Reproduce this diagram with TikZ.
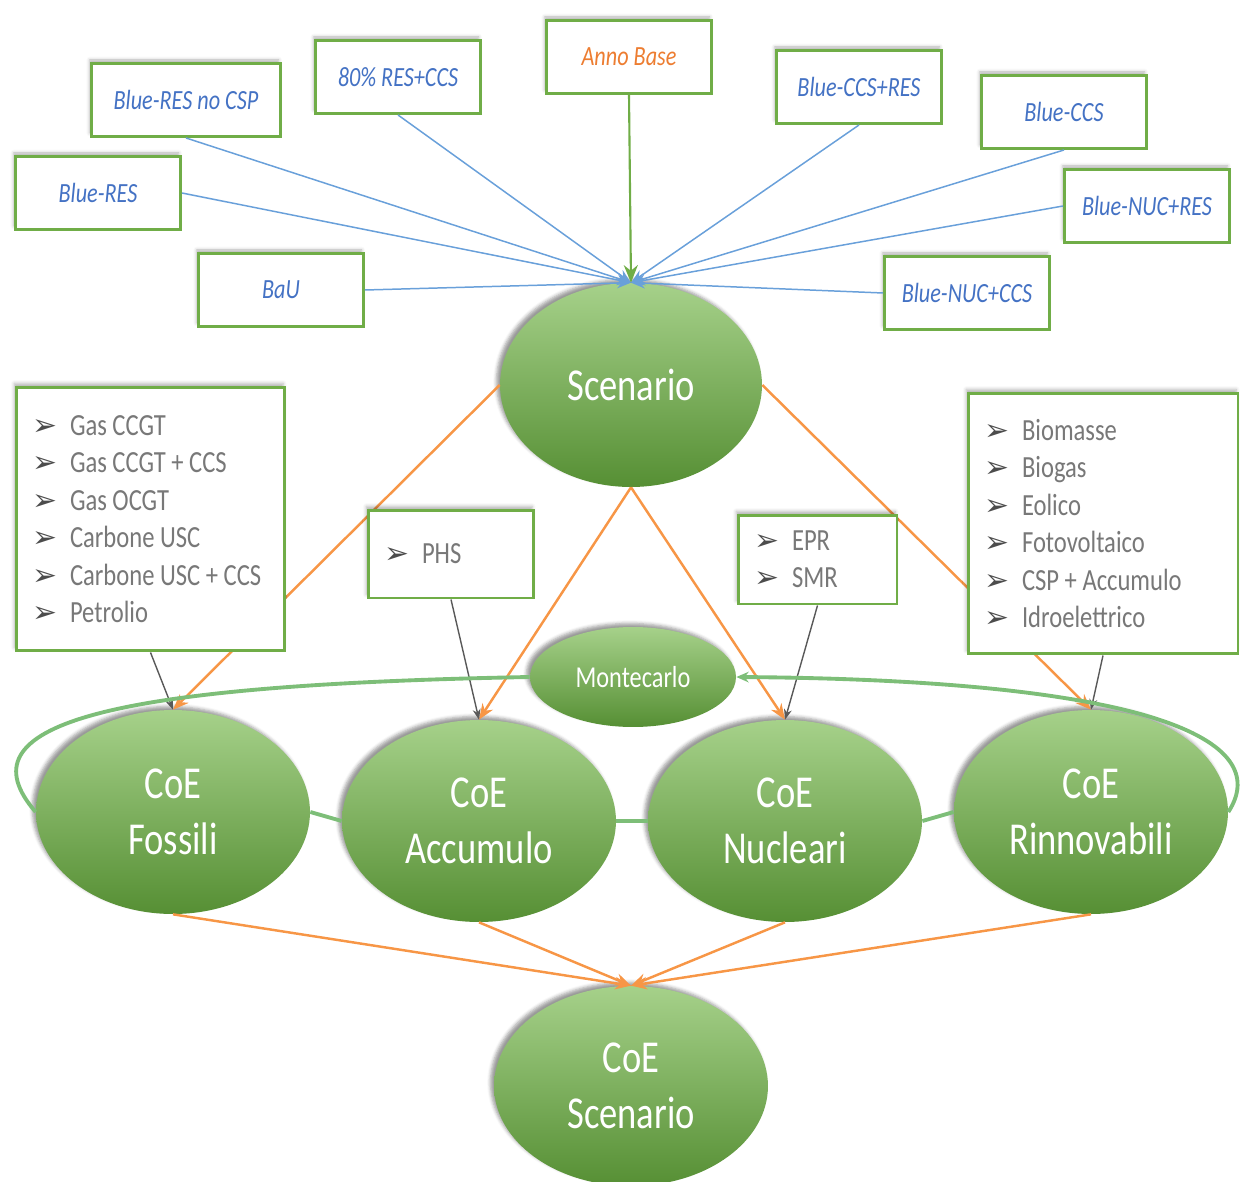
\documentclass[tikz,border=0pt]{standalone}
\usepackage{fontspec}
\setmainfont{Carlito}[FakeStretch=0.8]
\newfontfamily\symfnt{DejaVu Sans}
\usetikzlibrary{shapes.geometric,arrows.meta,shadows.blur}
\definecolor{grnline}{RGB}{112,173,71}
\definecolor{bluline}{RGB}{105,160,218}
\definecolor{blutxt}{RGB}{68,114,196}
\definecolor{orgline}{RGB}{247,150,70}
\definecolor{orgtxt}{RGB}{237,125,49}
\definecolor{loopgrn}{RGB}{125,190,120}
\definecolor{blobtop}{RGB}{166,209,138}
\definecolor{blobbot}{RGB}{86,143,52}
\definecolor{lsttxt}{RGB}{120,120,120}
\newcommand{\itm}[1]{\makebox[0.76cm][l]{\color{black!70}\symfnt\fontsize{17}{17}\selectfont ➢}#1}
\tikzset{
  lbl/.style={draw=grnline,line width=1.7pt,fill=white,minimum width=3.3cm,minimum height=1.46cm,
    font=\fontsize{15.8}{16}\selectfont\itshape,text=blutxt,
    blur shadow={shadow xshift=-1pt,shadow yshift=2pt,shadow opacity=30}},
  lst/.style={draw=grnline,line width=1.7pt,fill=white,inner xsep=0.32cm,inner ysep=0pt,align=flush left,
    font=\fontsize{17.5}{21.3}\selectfont,text=lsttxt,
    blur shadow={shadow xshift=-1pt,shadow yshift=2pt,shadow opacity=30}},
  blob/.style={ellipse,inner sep=0pt,top color=blobtop,bottom color=blobbot,text=white,align=center,
    minimum width=5.48cm,minimum height=4.08cm,font=\fontsize{26}{31.7}\selectfont,
    blur shadow={shadow xshift=-2pt,shadow yshift=2pt,shadow opacity=40}},
  blu/.style={bluline,line width=0.85pt,-{Stealth[length=8pt,width=6pt]}},
  org/.style={orgline,line width=1.4pt,-{Stealth[length=9pt,width=7pt]}},
  gry/.style={black!65,line width=0.8pt,-{Stealth[length=6pt,width=4.5pt]}},
  lnk/.style={loopgrn,line width=2.2pt}
}
\begin{document}
\begin{tikzpicture}[x=0.02cm,y=-0.02cm]
    \useasboundingbox (0,0) rectangle (1243,1182);
    \node[lbl,minimum width=3.78cm] (bnc) at (186,100) {Blue-RES no CSP};
    \node[lbl] (r80) at (398,77) {80\% RES+CCS};
    \node[lbl,text=orgtxt] (ab) at (629,57) {Anno Base};
    \node[lbl] (bcr) at (859,87) {Blue-CCS+RES};
    \node[lbl] (bcc) at (1064,112) {Blue-CCS};
    \node[lbl] (bres) at (98,193) {Blue-RES};
    \node[lbl] (bnr) at (1147,206) {Blue-NUC+RES};
    \node[lbl] (bau) at (281,290) {BaU};
    \node[lbl] (bncc) at (967,293) {Blue-NUC+CCS};
    \node[blob,minimum width=5.24cm] (scn) at (631,385) {Scenario};
    \node[blob] (fos) at (173,812) {CoE\\Fossili};
    \node[blob,minimum height=4.04cm] (acc) at (479,821) {CoE\\Accumulo};
    \node[blob,minimum height=4.04cm] (nuc) at (785,821) {CoE\\Nucleari};
    \node[blob] (rin) at (1091,812) {CoE\\Rinnovabili};
    \node[blob,minimum height=4.0cm] (cs) at (631,1086) {CoE\\Scenario};
    \foreach \n in {bnc,r80,bcr,bcc} \draw[blu] (\n.south) -- (scn.north);
    \foreach \n in {bres,bau} \draw[blu] (\n.east) -- (scn.north);
    \foreach \n in {bnr,bncc} \draw[blu] (\n.west) -- (scn.north);
    \draw[grnline,line width=1.2pt,-{Stealth[length=10pt,width=8pt]}] (ab.south) -- (scn.north);
    \draw[org] (scn.west) -- (fos.north);
    \draw[org] (scn.east) -- (rin.north);
    \draw[org] (scn.south) -- (acc.north);
    \draw[org] (scn.south) -- (nuc.north);
    \foreach \n in {fos,acc,nuc,rin} \draw[org] (\n.south) -- (cs.north);
    \node[lst,text width=4.74cm,minimum height=5.28cm] (fosl) at (150.5,519)
        {\itm{Gas CCGT}\\\itm{Gas CCGT + CCS}\\\itm{Gas OCGT}\\\itm{Carbone USC}\\\itm{Carbone USC + CCS}\\\itm{Petrolio}};
    \node[lst,text width=4.76cm,minimum height=5.22cm] (rinl) at (1103,523.5)
        {\itm{Biomasse}\\\itm{Biogas}\\\itm{Eolico}\\\itm{Fotovoltaico}\\\itm{CSP + Accumulo}\\\itm{Idroelettrico}};
    \node[lst,text width=2.68cm,minimum height=1.76cm] (phs) at (451,554) {\itm{PHS}};
    \node[lst,text width=2.54cm,minimum height=1.78cm] (epr) at (817.5,559.5) {\itm{EPR}\\\itm{SMR}};
    \draw[gry] (fosl.south) -- (fos.north);
    \draw[gry] (phs.south) -- (acc.north);
    \draw[gry] (epr.south) -- (nuc.north);
    \draw[gry] (rinl.south) -- (rin.north);
    \node[blob,minimum width=4.12cm,minimum height=2.0cm,font=\fontsize{17.3}{20}\selectfont] (mc) at (633,677) {Montecarlo};
    \draw[lnk] (mc.west) .. controls (100,685) and (-40,725) .. (fos.west);
    \draw[lnk] (fos.east) -- (acc.west);
    \draw[lnk] (acc.east) -- (nuc.west);
    \draw[lnk] (nuc.east) -- (rin.west);
    \draw[lnk,-{Stealth[length=7pt,width=6pt]}] (rin.east) .. controls (1275,740) and (1150,680) .. (mc.east);
\end{tikzpicture}
\end{document}
